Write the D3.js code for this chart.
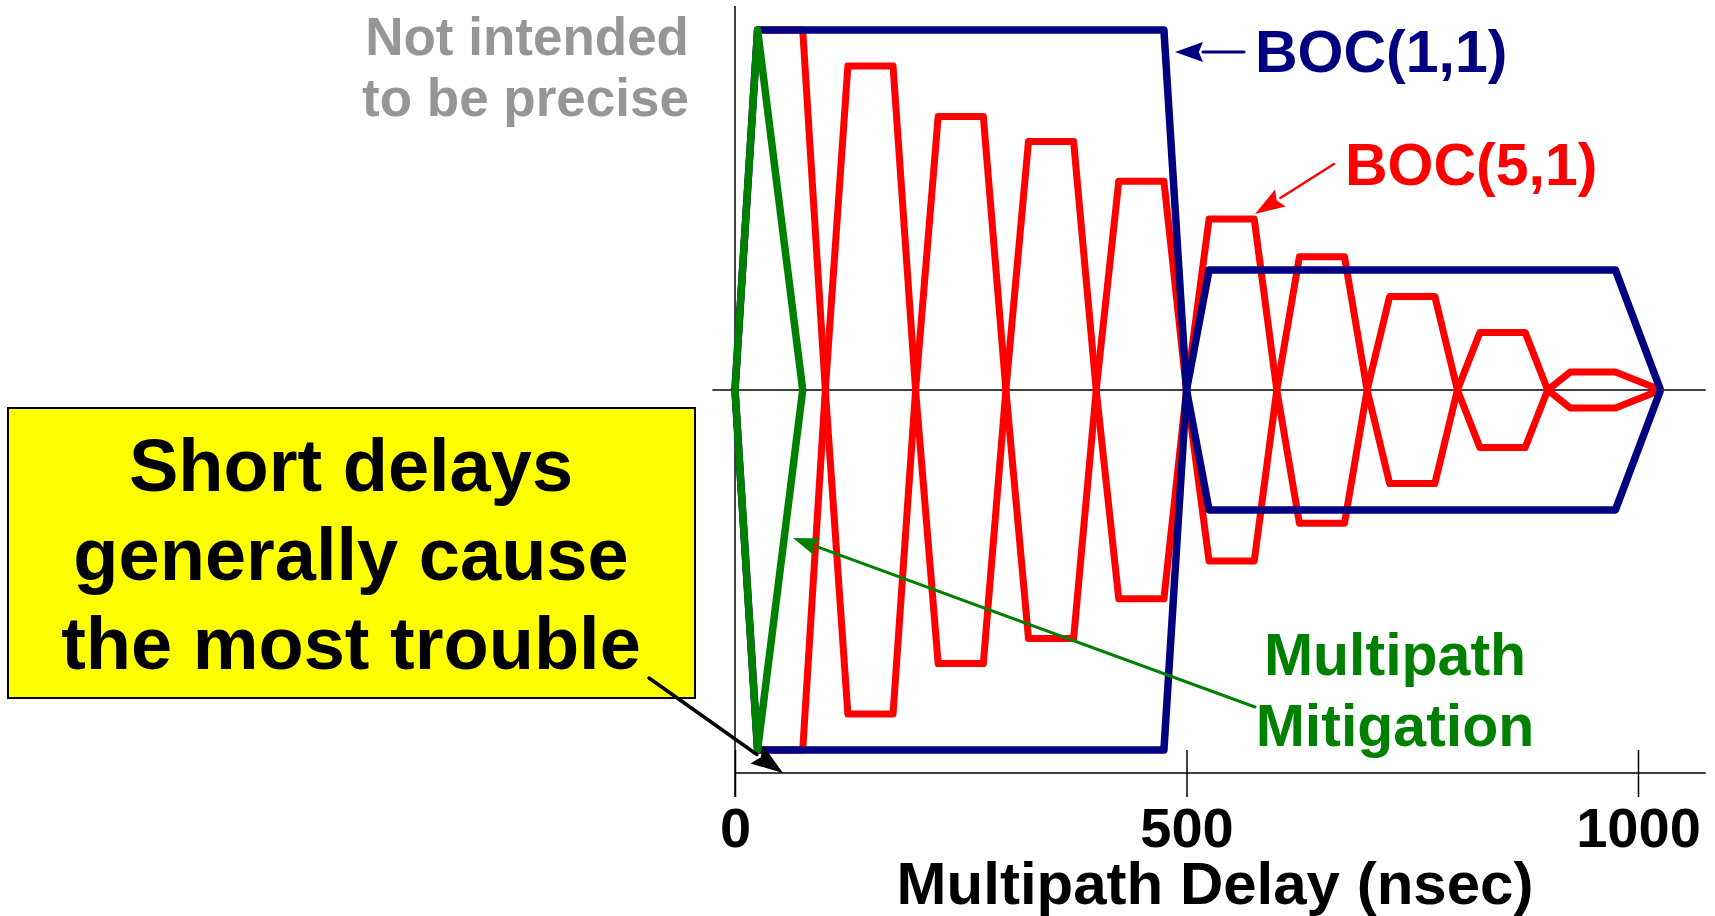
<!DOCTYPE html>
<html lang="en">
<head>
<meta charset="UTF-8">
<title>Multipath error envelope</title>
<style>
  body { margin: 0; background: #fff; }
  svg text { font-family: "Liberation Sans", Arial, sans-serif; font-weight: bold; }
</style>
</head>
<body>
<svg id="chart"></svg>
<script src="https://cdn.jsdelivr.net/npm/d3@7/dist/d3.min.js"></script>
<script>
// multipath delay (nsec) vs. normalised error envelope, drawn mirrored about zero
const boc11Delay = [0, 25, 475, 500, 525, 975, 1025];
const boc11Err   = [0, 1, 1, 0, -0.333, -0.333, 0];

const boc51Delay = [0, 25, 75, 100, 125, 175, 200, 225, 275, 300, 325, 375, 400, 425, 475,
                    500, 525, 575, 600, 625, 675, 700, 725, 775, 800, 825, 875, 900, 925, 975, 1025];
const boc51Err   = [0, 1, 1, 0, -0.9, -0.9, 0, 0.76, 0.76, 0, -0.69, -0.69, 0, 0.58, 0.58,
                    0, -0.475, -0.475, 0, 0.37, 0.37, 0, -0.26, -0.26, 0, 0.16, 0.16, 0, -0.05, -0.05, 0];

const mitigDelay = [0, 25, 75];
const mitigErr   = [0, 1, 0];

const xTicks = [0, 500, 1000];

const width = 1715, height = 916;

const svg = d3.select('#chart')
  .attr('width', width)
  .attr('height', height);

svg.append('rect').attr('width', width).attr('height', height).attr('fill', '#fff');

const x = d3.scaleLinear().domain([0, 1000]).range([735, 1638]);
const y = d3.scaleLinear().domain([-1, 1]).range([750, 30]);
const axisY = 773;

// axes
svg.append('line')
  .attr('x1', x(-25)).attr('x2', x(1075))
  .attr('y1', y(0)).attr('y2', y(0))
  .attr('stroke', '#000').attr('stroke-width', 1.5);
svg.append('line')
  .attr('x1', x(0)).attr('x2', x(0))
  .attr('y1', 6).attr('y2', 797)
  .attr('stroke', '#000').attr('stroke-width', 1.5);
svg.append('line')
  .attr('x1', x(0)).attr('x2', x(1075))
  .attr('y1', axisY).attr('y2', axisY)
  .attr('stroke', '#000').attr('stroke-width', 1.5);

const xAxis = svg.append('g')
  .attr('transform', `translate(0,${axisY})`)
  .call(d3.axisBottom(x).tickValues(xTicks).tickFormat(d3.format('d')).tickSize(24).tickSizeOuter(0));
xAxis.select('.domain').remove();
xAxis.selectAll('.tick line')
  .attr('y1', -23).attr('y2', 24)
  .attr('stroke', '#000').attr('stroke-width', 1.5);
xAxis.selectAll('.tick text')
  .attr('y', 74).attr('dy', 0)
  .attr('font-size', 56)
  .attr('font-family', '"Liberation Sans", Arial, sans-serif')
  .attr('font-weight', 'bold')
  .attr('fill', '#000');

svg.append('text')
  .attr('x', 1215).attr('y', 904)
  .attr('text-anchor', 'middle')
  .attr('font-size', 60)
  .text('Multipath Delay (nsec)');

// envelopes
function envelope(delays, errs, color, w) {
  const pts = delays.map((d, i) => [d, errs[i]]);
  const line = d3.line().x(p => x(p[0])).y(p => y(p[1]));
  const g = svg.append('g');
  [1, -1].forEach(s => {
    g.append('path')
      .attr('d', line(pts.map(p => [p[0], s * p[1]])))
      .attr('fill', 'none')
      .attr('stroke', color)
      .attr('stroke-width', w)
      .attr('stroke-linejoin', 'round');
  });
}

envelope(boc51Delay, boc51Err, '#ff0000', 7);
envelope(boc11Delay, boc11Err, '#000080', 7.5);
envelope(mitigDelay, mitigErr, '#008000', 7.5);

// arrows
function arrow(x1, y1, x2, y2, color, w, len, half) {
  const a = Math.atan2(y2 - y1, x2 - x1);
  const bx = x2 - len * Math.cos(a), by = y2 - len * Math.sin(a);
  svg.append('line')
    .attr('x1', x1).attr('y1', y1).attr('x2', bx).attr('y2', by)
    .attr('stroke', color).attr('stroke-width', w).attr('stroke-linecap', 'round');
  const px = -Math.sin(a) * half, py = Math.cos(a) * half;
  svg.append('path')
    .attr('d', `M${x2},${y2}L${bx + px},${by + py}L${bx + len * 0.15 * Math.cos(a)},${by + len * 0.15 * Math.sin(a)}L${bx - px},${by - py}Z`)
    .attr('fill', color);
}

// labels
svg.append('text')
  .attr('x', 1255).attr('y', 72)
  .attr('font-size', 59).attr('fill', '#000080')
  .text('BOC(1,1)');
arrow(1244, 52, 1175, 52, '#000080', 3, 28, 10);

svg.append('text')
  .attr('x', 1345).attr('y', 185)
  .attr('font-size', 59).attr('fill', '#ff0000')
  .text('BOC(5,1)');
arrow(1334, 164, 1255, 214, '#ff0000', 2.5, 30, 10);

const mitig = svg.append('text')
  .attr('text-anchor', 'middle')
  .attr('font-size', 59).attr('fill', '#008000');
mitig.append('tspan').attr('x', 1395).attr('y', 675).text('Multipath');
mitig.append('tspan').attr('x', 1395).attr('y', 746).text('Mitigation');
arrow(1255, 707, 793, 538, '#008000', 3, 26, 9);

const note = svg.append('text')
  .attr('text-anchor', 'end')
  .attr('font-size', 53).attr('fill', '#969696');
note.append('tspan').attr('x', 689).attr('y', 55).text('Not intended');
note.append('tspan').attr('x', 689).attr('y', 116).text('to be precise');

// callout box
svg.append('rect')
  .attr('x', 8).attr('y', 408)
  .attr('width', 687).attr('height', 290)
  .attr('fill', '#ffff00')
  .attr('stroke', '#000').attr('stroke-width', 2);
const box = svg.append('text')
  .attr('text-anchor', 'middle')
  .attr('font-size', 74).attr('fill', '#000');
['Short delays', 'generally cause', 'the most trouble'].forEach((t, i) => {
  box.append('tspan').attr('x', 351).attr('y', 491 + i * 89).text(t);
});
arrow(649, 678, 783, 773, '#000', 3.5, 32, 11);
</script>
</body>
</html>
